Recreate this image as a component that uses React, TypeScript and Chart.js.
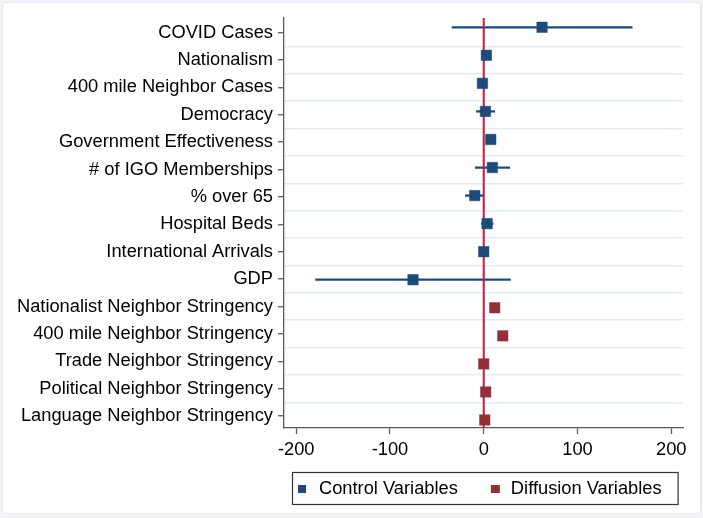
import React, { useEffect, useRef } from "react";
import { Chart, registerables } from "chart.js";

Chart.register(...registerables);

const categories = [
  "COVID Cases",
  "Nationalism",
  "400 mile Neighbor Cases",
  "Democracy",
  "Government Effectiveness",
  "# of IGO Memberships",
  "% over 65",
  "Hospital Beds",
  "International Arrivals",
  "GDP",
  "Nationalist Neighbor Stringency",
  "400 mile Neighbor Stringency",
  "Trade Neighbor Stringency",
  "Political Neighbor Stringency",
  "Language Neighbor Stringency",
];

const controlEst = [62.2, 2.8, -1.4, 1.8, 7.5, 9.2, -9.6, 3.6, 0, -75.4];
const controlLow = [-33.8, 0.5, -3.5, -7.8, 5.5, -8.9, -19.6, -2.5, -1.5, -179.3];
const controlHigh = [158.3, 5, 0.8, 11.7, 9.5, 27.7, -0.7, 10, 1.5, 28.5];

const diffusionEst = [11.7, 20.3, 0, 2.1, 1.1];
const diffusionLow = [10, 18.5, -1, 0.8, 0];
const diffusionHigh = [13.5, 22, 1, 3.5, 2.2];

const xTicks = [-200, -100, 0, 100, 200];
const X_MIN = -213;
const X_MAX = 212.5;

const BLUE = "#1d4a78";
const RED = "#923039";
const ZERO_LINE = "#c41a3d";
const GRID = "#e2ecee";
const AXIS = "#5a5a5a";
const FONT = "'Liberation Sans', Arial, Helvetica, sans-serif";
const FS = 18.3;

const legendPlugin = {
  id: "boxLegend",
  afterDraw(chart: any) {
    const ctx = chart.ctx;
    const items = [
      { label: chart.data.datasets[3].label, color: BLUE },
      { label: chart.data.datasets[4].label, color: RED },
    ];
    ctx.save();
    ctx.font = `${FS}px ${FONT}`;
    const w1 = ctx.measureText(items[0].label).width;
    const w2 = ctx.measureText(items[1].label).width;
    const boxL = 292;
    const boxT = 472;
    const boxH = 32;
    const sq1 = boxL + 6;
    const t1 = sq1 + 21;
    const sq2 = t1 + w1 + 33;
    const t2 = sq2 + 20;
    const boxR = t2 + w2 + 16;
    const cy = boxT + boxH / 2 + 1;
    ctx.fillStyle = "#ffffff";
    ctx.fillRect(boxL, boxT, boxR - boxL, boxH);
    ctx.strokeStyle = "#333333";
    ctx.lineWidth = 1.2;
    ctx.strokeRect(boxL + 0.5, boxT + 0.5, boxR - boxL, boxH);
    ctx.fillStyle = items[0].color;
    ctx.fillRect(sq1, cy - 4, 8, 8);
    ctx.fillStyle = items[1].color;
    ctx.fillRect(sq2, cy - 4, 9, 8);
    ctx.fillStyle = "#000";
    ctx.textBaseline = "middle";
    ctx.textAlign = "left";
    ctx.fillText(items[0].label, t1, cy);
    ctx.fillText(items[1].label, t2, cy);
    ctx.restore();
  },
};

export default function App() {
  const canvasRef = useRef<HTMLCanvasElement | null>(null);

  useEffect(() => {
    if (!canvasRef.current) return;
    Chart.defaults.font.family = FONT;
    const nC = controlEst.length;
    const Y_MIN = -0.33;
    const Y_MAX = 14.285;
    const chart = new Chart(canvasRef.current, {
      type: "scatter",
      data: {
        datasets: [
          {
            type: "bar",
            label: "Control CI",
            data: controlLow.map((lo, i) => ({ x: [lo, controlHigh[i]], y: i })) as any,
            indexAxis: "y",
            backgroundColor: BLUE,
            borderWidth: 0,
            barThickness: 1.6,
            grouped: false,
            xAxisID: "x",
            yAxisID: "y",
            order: 3,
          } as any,
          {
            type: "bar",
            label: "Diffusion CI",
            data: diffusionLow.map((lo, i) => ({ x: [lo, diffusionHigh[i]], y: i + nC })) as any,
            indexAxis: "y",
            backgroundColor: RED,
            borderWidth: 0,
            barThickness: 1.6,
            grouped: false,
            xAxisID: "x",
            yAxisID: "y",
            order: 3,
          } as any,
          {
            type: "line",
            label: "zero",
            data: [
              { x: 0, y: Y_MIN },
              { x: 0, y: Y_MAX },
            ],
            borderColor: ZERO_LINE,
            borderWidth: 2,
            pointRadius: 0,
            xAxisID: "x",
            yAxisID: "y",
            order: 2,
          } as any,
          {
            type: "scatter",
            label: "Control Variables",
            data: controlEst.map((v, i) => ({ x: v, y: i })),
            pointStyle: "rect",
            pointRadius: 7.4,
            backgroundColor: BLUE,
            borderColor: BLUE,
            borderWidth: 0.5,
            xAxisID: "x",
            yAxisID: "y",
            order: 1,
          } as any,
          {
            type: "scatter",
            label: "Diffusion Variables",
            data: diffusionEst.map((v, i) => ({ x: v, y: i + nC })),
            pointStyle: "rect",
            pointRadius: 7.4,
            backgroundColor: RED,
            borderColor: RED,
            borderWidth: 0.5,
            xAxisID: "x",
            yAxisID: "y",
            order: 1,
          } as any,
        ],
      },
      options: {
        responsive: false,
        animation: false,
        devicePixelRatio: 1,
        layout: { padding: { top: 18, right: 20, bottom: 0, left: 0 } },
        plugins: {
          legend: { display: false },
          tooltip: { enabled: false },
        },
        scales: {
          x: {
            type: "linear",
            position: "bottom",
            min: X_MIN,
            max: X_MAX,
            afterBuildTicks: (s: any) => {
              s.ticks = xTicks.map((v) => ({ value: v }));
            },
            afterFit: (s: any) => {
              s.height = 90;
            },
            grid: {
              drawOnChartArea: false,
              drawTicks: true,
              tickLength: 6,
              tickColor: AXIS,
              tickWidth: 1.3,
            },
            border: { display: true, color: AXIS, width: 1.3 },
            ticks: {
              autoSkip: false,
              maxRotation: 0,
              padding: 5,
              color: "#000",
              font: { family: FONT, size: FS },
              callback: (v: any) => String(v),
            },
          },
          y: {
            type: "linear",
            reverse: true,
            min: Y_MIN,
            max: Y_MAX,
            display: false,
            offset: false,
          },
          yl: {
            type: "linear",
            position: "left",
            reverse: true,
            min: -0.537,
            max: 14.438,
            afterBuildTicks: (s: any) => {
              const t: any[] = [];
              for (let i = 0; i <= (categories.length - 1) * 2; i++) t.push({ value: i / 2 });
              s.ticks = t;
            },
            afterFit: (s: any) => {
              s.width = 284;
            },
            grid: {
              drawOnChartArea: true,
              drawTicks: true,
              tickLength: 6,
              lineWidth: 1.5,
              color: (c: any) =>
                c.tick && !Number.isInteger(c.tick.value) ? GRID : "rgba(0,0,0,0)",
              tickColor: (c: any) =>
                c.tick && Number.isInteger(c.tick.value) ? AXIS : "rgba(0,0,0,0)",
              tickWidth: 1.3,
            },
            border: { display: true, color: AXIS, width: 1.3 },
            ticks: {
              autoSkip: false,
              padding: 5,
              color: "#000",
              font: { family: FONT, size: FS },
              callback: (v: any) => (Number.isInteger(v) ? categories[v] : ""),
            },
          },
        },
      } as any,
      plugins: [legendPlugin],
    });
    return () => chart.destroy();
  }, []);

  return (
    <div
      style={{
        position: "absolute",
        left: 0,
        top: 0,
        width: 703,
        height: 518,
        background: "#f1f5f9",
        overflow: "hidden",
      }}
    >
      <div
        style={{
          position: "absolute",
          left: 2,
          top: 2,
          width: 697,
          height: 510,
          background: "#ffffff",
          border: "1px solid #e6eaee",
          borderRadius: 3,
        }}
      />
      <canvas
        ref={canvasRef}
        width={703}
        height={518}
        style={{ position: "absolute", left: 0, top: 0, width: 703, height: 518 }}
      />
    </div>
  );
}
